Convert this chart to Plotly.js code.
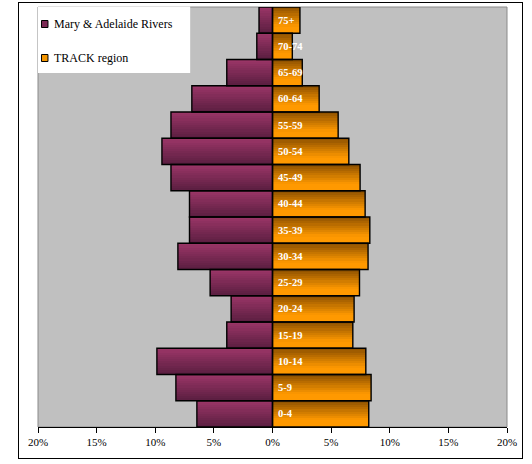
<!DOCTYPE html>
<html>
<head>
<meta charset="utf-8">
<script src="https://cdn.plot.ly/plotly-3.0.1.min.js"></script>
<style>
  html, body { margin: 0; padding: 0; background: #ffffff; }
  #wrap { position: relative; width: 532px; height: 464px; }
  #chart { width: 532px; height: 464px; }
  #frame { position: absolute; left: 18px; top: 2px; width: 503px; height: 455px;
           border: 1.5px solid #000; pointer-events: none; }
</style>
</head>
<body>
<div id="wrap">
  <div id="chart"></div>
  <div id="frame"></div>
</div>
<script>
// ---- data ----
const ageGroups = ['0-4','5-9','10-14','15-19','20-24','25-29','30-34','35-39',
                   '40-44','45-49','50-54','55-59','60-64','65-69','70-74','75+'];
const maryAdelaide = [6.45, 8.24, 9.86, 3.90, 3.53, 5.32, 8.07, 7.08,
                      7.08, 8.66, 9.43, 8.66, 6.88, 3.90, 1.34, 1.15];
const trackRegion  = [8.21, 8.41, 7.96, 6.85, 6.96, 7.42, 8.15, 8.30,
                      7.90, 7.47, 6.51, 5.60, 3.98, 2.54, 1.69, 2.34];
const seriesNames = ['Mary & Adelaide Rivers', 'TRACK region'];
const xTickVals = [-20, -15, -10, -5, 0, 5, 10, 15, 20];
const xTickText = ['20%', '15%', '10%', '5%', '0%', '5%', '10%', '15%', '20%'];

// ---- styling helpers ----
function lerp(a, b, t) { return a.map((v, i) => Math.round(v + (b[i] - v) * t)); }
function rgb(c) { return 'rgb(' + c.join(',') + ')'; }
const purpleTop = [0x9C, 0x36, 0x68], purpleBot = [0x5A, 0x1E, 0x40];
const orangeTop = [0x8C, 0x50, 0x00], orangeBot = [0xFF, 0x99, 0x00];
const N = 12;

const leftVals = maryAdelaide.map(v => -v);
const traces = [];
for (let i = 0; i < N; i++) {
  const t = (i + 0.5) / N;           // 0 = top, 1 = bottom
  const off = 0.5 - (i + 1) / N;
  const w = 1 / N + 0.004;
  traces.push({
    type: 'bar', orientation: 'h', y: ageGroups, x: leftVals,
    offset: off, width: w, showlegend: false, hoverinfo: 'skip',
    marker: { color: rgb(lerp(purpleTop, purpleBot, t)), line: { width: 0 } }
  });
  const to = Math.min(1, t / 0.75);
  traces.push({
    type: 'bar', orientation: 'h', y: ageGroups, x: trackRegion,
    offset: off, width: w, showlegend: false, hoverinfo: 'skip',
    marker: { color: rgb(lerp(orangeTop, orangeBot, to)), line: { width: 0 } }
  });
}
// outlines
traces.push({
  type: 'bar', orientation: 'h', y: ageGroups, x: leftVals, name: seriesNames[0],
  width: 1, showlegend: false, hoverinfo: 'skip',
  marker: { color: 'rgba(0,0,0,0)', line: { color: '#000', width: 1.4 } }
});
traces.push({
  type: 'bar', orientation: 'h', y: ageGroups, x: trackRegion, name: seriesNames[1],
  width: 1, showlegend: false, hoverinfo: 'skip',
  marker: { color: 'rgba(0,0,0,0)', line: { color: '#000', width: 1.4 } }
});

const serif = "Liberation Serif";
const annotations = ageGroups.map(g => ({
  x: 0, y: g, xref: 'x', yref: 'y', xanchor: 'left', yanchor: 'middle',
  xshift: 3, showarrow: false, text: '<b>' + g + '</b>',
  font: { family: serif, size: 10.5, color: '#ffffff' }
}));

// legend (custom box)
const plotW = 532 - 37.5 - 24.5, plotH = 464 - 7 - 37;
function px(xp) { return (xp - 37.5) / plotW; }
function py(yp) { return 1 - (yp - 7) / plotH; }
const legendColors = ['#7C2A55', '#F39500'];
const legendY = [24, 58];
const shapes = [
  { type: 'rect', xref: 'paper', yref: 'paper', x0: px(37.5), x1: px(190), y0: py(6.5), y1: py(73),
    fillcolor: '#ffffff', line: { width: 0 }, layer: 'above' },
  { type: 'rect', xref: 'paper', yref: 'paper', x0: 0, x1: 1, y0: 0, y1: 1,
    fillcolor: 'rgba(0,0,0,0)', line: { color: '#8a8a8a', width: 1 }, layer: 'below' }
];
seriesNames.forEach((n, i) => {
  shapes.push({ type: 'rect', xref: 'paper', yref: 'paper',
    x0: px(41), x1: px(47.5), y0: py(legendY[i] - 3.5), y1: py(legendY[i] + 3.5),
    fillcolor: legendColors[i], line: { color: '#000', width: 1 }, layer: 'above' });
  annotations.push({ xref: 'paper', yref: 'paper', x: px(52), y: py(legendY[i]),
    xanchor: 'left', yanchor: 'middle', showarrow: false, text: n,
    font: { family: serif, size: 12, color: '#000' } });
});

const layout = {
  width: 532, height: 464,
  margin: { l: 37.5, r: 24.5, t: 7, b: 37, pad: 0 },
  paper_bgcolor: '#ffffff', plot_bgcolor: '#c0c0c0',
  barmode: 'overlay', bargap: 0,
  showlegend: false,
  font: { family: serif },
  xaxis: {
    range: [-20, 20], tickvals: xTickVals, ticktext: xTickText,
    ticks: 'outside', ticklen: 5, tickcolor: '#000', tickwidth: 1,
    showline: true, linecolor: '#000', linewidth: 1,
    showgrid: false, zeroline: false, fixedrange: true,
    tickfont: { family: serif, size: 11, color: '#000' }
  },
  yaxis: {
    type: 'category', categoryorder: 'array', categoryarray: ageGroups,
    range: [-0.5, ageGroups.length - 0.5],
    showticklabels: false, ticks: '', showgrid: false, zeroline: false,
    showline: false, fixedrange: true
  },
  shapes: shapes,
  annotations: annotations
};

Plotly.newPlot('chart', traces, layout, { staticPlot: true, displayModeBar: false });
</script>
</body>
</html>
